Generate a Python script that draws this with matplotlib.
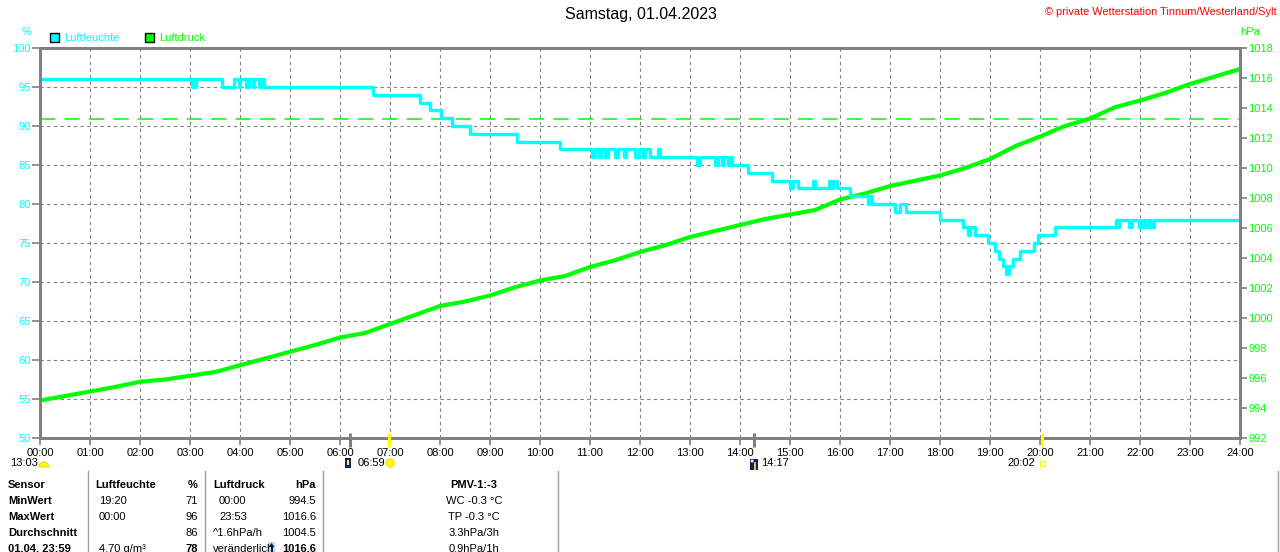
import matplotlib
matplotlib.use("Agg")
import matplotlib.pyplot as plt
from matplotlib.patches import Rectangle, Circle, Wedge, Polygon

plt.rcParams['font.family'] = ['Liberation Sans', 'DejaVu Sans']

# Luftfeuchte (%), Stufen: Zeitpunkt der Änderung in Stunden -> neuer Wert
feuchte_t = [0.0, 3.03, 3.06, 3.08, 3.12, 3.64, 3.87, 3.97, 4.0, 4.12, 4.17, 4.25, 4.28,
             4.38, 4.41, 4.47, 6.66, 7.6, 7.8, 8.03, 8.23, 8.6, 9.54, 10.4,
             11.04, 11.1, 11.17, 11.22, 11.3, 11.35, 11.5, 11.55, 11.68, 11.72, 11.9, 11.97,
             12.05, 12.1, 12.2, 12.35, 12.4, 13.13, 13.2, 13.5, 13.56, 13.64, 13.68, 13.76,
             13.8, 13.84, 14.16, 14.63, 15.0, 15.05, 15.15, 15.45, 15.5, 15.77, 15.81, 15.85,
             15.93, 16.2, 16.56, 16.6, 16.65, 17.1, 17.2, 17.33, 18.0, 18.46, 18.56, 18.6,
             18.7, 18.96, 19.1, 19.18, 19.25, 19.32, 19.38, 19.46, 19.6, 19.88, 19.96, 20.3,
             21.52, 21.55, 21.58, 21.78, 21.84, 21.98, 22.03, 22.1, 22.16, 22.22, 22.28, 24.0]
feuchte_v = [96, 95, 96, 95, 96, 95, 96, 95, 96, 95, 96, 95, 96,
             95, 96, 95, 94, 93, 92, 91, 90, 89, 88, 87,
             86, 87, 86, 87, 86, 87, 86, 87, 86, 87, 86, 87,
             86, 87, 86, 87, 86, 85, 86, 85, 86, 85, 86, 85,
             86, 85, 84, 83, 82, 83, 82, 83, 82, 83, 82, 83,
             82, 81, 80, 81, 80, 79, 80, 79, 78, 77, 76, 77,
             76, 75, 74, 73, 72, 71, 72, 73, 74, 75, 76, 77,
             78, 77, 78, 77, 78, 77, 78, 77, 78, 77, 78, 78]

druck_t = [0.0, 0.5, 1.0, 1.5, 2.0, 2.5, 3.0, 3.5, 4.0, 4.5, 5.0, 5.5, 6.0, 6.5, 7.0, 7.5,
           8.0, 8.5, 9.0, 9.5, 10.0, 10.5, 11.0, 11.5, 12.0, 12.5, 13.0, 13.5, 14.0, 14.5,
           15.0, 15.5, 16.0, 16.5, 17.0, 17.5, 18.0, 18.5, 19.0, 19.5, 20.0, 20.5, 21.0,
           21.5, 22.0, 22.5, 23.0, 23.5, 24.0]
druck_v = [994.5, 994.8, 995.1, 995.4, 995.75, 995.9, 996.15, 996.4, 996.85, 997.3, 997.75,
           998.2, 998.7, 999.0, 999.6, 1000.2, 1000.8, 1001.1, 1001.5, 1002.05, 1002.5,
           1002.8, 1003.4, 1003.85, 1004.4, 1004.85, 1005.4, 1005.8, 1006.2, 1006.6, 1006.9,
           1007.2, 1007.9, 1008.3, 1008.8, 1009.15, 1009.5, 1010.0, 1010.6, 1011.45, 1012.1,
           1012.8, 1013.3, 1014.05, 1014.5, 1015.0, 1015.6, 1016.1, 1016.6]
normaldruck = 1013.25

stunden = [f"{h:02d}:00" for h in range(25)]
feuchte_ticks = list(range(50, 101, 5))
druck_ticks = list(range(992, 1019, 2))

# Mond / Sonne
mond_unter = 6.2
sonne_auf = 6 + 59 / 60
mond_auf = 14 + 17 / 60
sonne_unter = 20 + 2 / 60

tabelle = [
    ["Sensor", "Luftfeuchte", "%", "Luftdruck", "hPa", "PMV-1:-3"],
    ["MinWert", "19:20", "71", "00:00", "994.5", "WC -0.3 °C"],
    ["MaxWert", "00:00", "96", "23:53", "1016.6", "TP -0.3 °C"],
    ["Durchschnitt", "", "86", "^1.6hPa/h", "1004.5", "3.3hPa/3h"],
    ["01.04. 23:59", "4.70 g/m³", "78", "veränderlich", "1016.6", "0.9hPa/1h"],
]

CYAN = '#00FFFF'
GRUEN = '#00FF00'
GRAU = '#808080'
W, H = 1280, 552

fig = plt.figure(figsize=(W / 100, H / 100), dpi=100)
ax = fig.add_axes([40 / W, 1 - 438 / H, 1200 / W, 390 / H])
ax2 = ax.twinx()

ax.set_xlim(0, 24)
ax.set_ylim(50, 100)
ax2.set_ylim(992, 1018)
ax.set_xticks(range(25))
ax.set_xticklabels(stunden)
ax.set_yticks(feuchte_ticks)
ax2.set_yticks(druck_ticks)

ax.grid(True, color=GRAU, linestyle=(0, (3, 3)), linewidth=0.8)
for a in (ax, ax2):
    for s in a.spines.values():
        s.set_color(GRAU)
        s.set_linewidth(2)
ax.tick_params(axis='x', colors=GRAU, labelcolor='black', length=5, width=1.2,
               labelsize=8, pad=2)
ax.tick_params(axis='y', colors=GRAU, labelcolor=CYAN, length=6, width=1.2,
               labelsize=8, pad=0.5)
ax2.tick_params(axis='y', colors=GRAU, labelcolor=GRUEN, length=5, width=1.2,
                labelsize=8, pad=1)

ax2.axhline(normaldruck, color=GRUEN, linestyle=(0, (10, 6)), linewidth=1.1)
ax2.plot(druck_t, druck_v, color=GRUEN, linewidth=3, solid_joinstyle='miter')
ax2.plot(feuchte_t, feuchte_v, color=CYAN, linewidth=2.4, drawstyle='steps-post',
         transform=ax.transData)

# Overlay in Pixelkoordinaten für Texte ausserhalb des Diagramms
ov = fig.add_axes([0, 0, 1, 1], zorder=5)
ov.set_xlim(0, W)
ov.set_ylim(H, 0)
ov.axis('off')


def zeit_px(t):
    return ov.transData.inverted().transform(ax.transData.transform((t, 50)))[0]


ov.text(641, 15, "Samstag, 01.04.2023", ha='center', va='center', fontsize=11.5)
ov.text(1277, 12, "© private Wetterstation Tinnum/Westerland/Sylt", ha='right',
        va='center', fontsize=7.9, color='red')
ov.text(27, 32, "%", ha='center', va='center', fontsize=8, color=CYAN)
ov.text(1250, 32, "hPa", ha='center', va='center', fontsize=8, color=GRUEN)
ov.add_patch(Rectangle((50, 33), 9, 9, facecolor=CYAN, edgecolor='black', lw=1))
ov.text(64, 38, "Luftfeuchte", va='center', fontsize=8, color=CYAN)
ov.add_patch(Rectangle((145, 33), 9, 9, facecolor=GRUEN, edgecolor='black', lw=1))
ov.text(159, 38, "Luftdruck", va='center', fontsize=8, color=GRUEN)

# Mond- und Sonnenmarken
for t, farbe in [(mond_unter, GRAU), (mond_auf, GRAU), (sonne_auf, '#FFFF00'),
                 (sonne_unter, '#FFFF00')]:
    x = zeit_px(t)
    ov.plot([x, x], [433, 447], color=farbe, linewidth=2.2, solid_capstyle='butt')

ov.text(10, 463, "13:03", va='center', fontsize=8)
ov.add_patch(Wedge((44, 467), 5, 180, 360, facecolor='#FFFF00', edgecolor='#E0C000', lw=0.5))

x = zeit_px(mond_unter)
ov.add_patch(Rectangle((x - 5, 458), 6, 10, facecolor='#102070', edgecolor='none'))
ov.add_patch(Rectangle((x - 3, 460), 2, 5, facecolor='#FFFF00', edgecolor='none'))
x = zeit_px(sonne_auf)
ov.text(x - 32, 463, "06:59", va='center', fontsize=8)
ov.add_patch(Circle((x + 1, 463), 4, facecolor='#FFFF00', edgecolor='#FFE000', lw=1))
x = zeit_px(mond_auf)
ov.add_patch(Rectangle((x - 4, 459), 8, 11, facecolor='#102070', edgecolor='none'))
ov.add_patch(Circle((x - 2, 461), 1.5, facecolor='white', edgecolor='none'))
ov.plot([x + 1, x + 1], [463, 470], color='#FFFF00', linewidth=1.2)
ov.text(x + 7, 463, "14:17", va='center', fontsize=8)
x = zeit_px(sonne_unter)
ov.text(x - 6, 463, "20:02", ha='right', va='center', fontsize=8)
ov.add_patch(Rectangle((x - 2, 461), 5, 5, facecolor='none', edgecolor='#FFFF00', lw=1))

# Tabelle
for xs in (88, 205, 323, 558, 1278):
    ov.plot([xs, xs], [471, H], color='#a0a0a0', linewidth=1)

zeilen_y = [485, 501, 517, 533, 549]
for i, (zeile, y) in enumerate(zip(tabelle, zeilen_y)):
    kopf = i == 0
    ov.text(8, y, zeile[0], va='center', fontsize=8, fontweight='bold')
    ov.text(95 if kopf else 99, y, zeile[1], va='center', fontsize=8,
            fontweight='bold' if kopf else 'normal')
    ov.text(198, y, zeile[2], ha='right', va='center', fontsize=8,
            fontweight='bold' if kopf or i == 4 else 'normal')
    ov.text(213 if kopf or i >= 3 else 219, y, zeile[3], va='center', fontsize=8,
            fontweight='bold' if kopf else 'normal')
    ov.text(316, y, zeile[4], ha='right', va='center', fontsize=8,
            fontweight='bold' if kopf or i == 4 else 'normal')
    ov.text(474, y, zeile[5], ha='center', va='center', fontsize=8,
            fontweight='bold' if kopf else 'normal')

# Tendenzpfeil (steigend)
ov.add_patch(Rectangle((268, 542), 7, 12, facecolor='#b8d8f0', edgecolor='none'))
ov.add_patch(Polygon([(271.5, 543), (274.5, 547), (268.5, 547)], closed=True,
                     facecolor='#102050', edgecolor='none'))
ov.plot([271.5, 271.5], [546, 554], color='#102050', linewidth=1.3)

fig.savefig("out.png", dpi=100)
